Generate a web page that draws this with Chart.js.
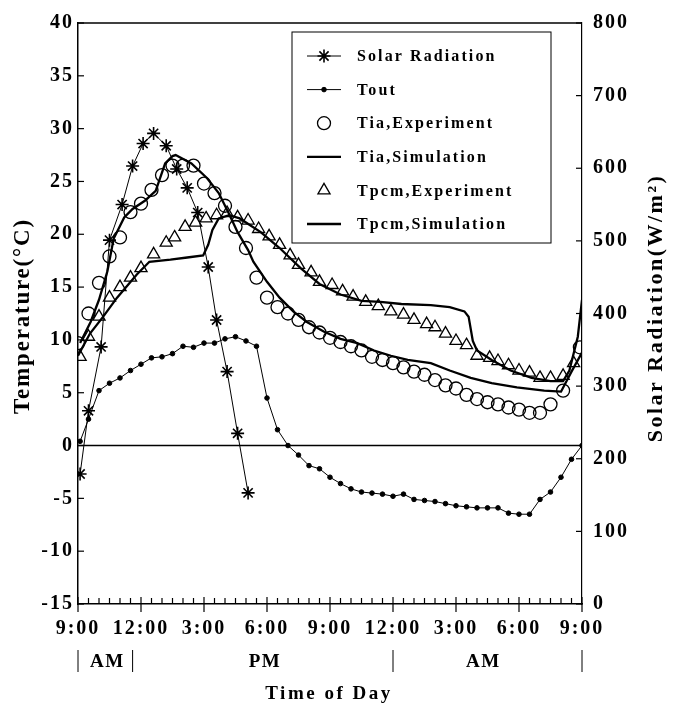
<!DOCTYPE html>
<html>
<head>
<meta charset="utf-8">
<title>Temperature and solar radiation</title>
<script src="https://cdn.jsdelivr.net/npm/chart.js@4.4.1/dist/chart.umd.min.js"></script>
<style>
  html, body { margin: 0; padding: 0; background: #fff; }
</style>
</head>
<body>
<canvas id="chart" width="677" height="710"></canvas>
<script>
// hours after 9:00 AM
const xTickLabels = ['9:00', '12:00', '3:00', '6:00', '9:00', '12:00', '3:00', '6:00', '9:00'];

// solar radiation (W/m2, right axis)
const solarHours = [0.1, 0.5, 1.1, 1.5, 2.1, 2.6, 3.1, 3.6, 4.2, 4.7, 5.2, 5.7, 6.2, 6.6, 7.1, 7.6, 8.1];
const solarValues = [179, 266, 354, 501, 550, 603, 634, 648, 631, 599, 573, 539, 464, 391, 320, 235, 153];

// outdoor temperature
const toutHours = [0.1, 0.5, 1, 1.5, 2, 2.5, 3, 3.5, 4, 4.5, 5, 5.5, 6, 6.5, 7, 7.5, 8, 8.5, 9, 9.5,
  10, 10.5, 11, 11.5, 12, 12.5, 13, 13.5, 14, 14.5, 15, 15.5, 16, 16.5, 17, 17.5, 18, 18.5, 19, 19.5,
  20, 20.5, 21, 21.5, 22, 22.5, 23, 23.5, 24];
const toutValues = [0.4, 2.5, 5.2, 5.9, 6.4, 7.1, 7.7, 8.3, 8.4, 8.7, 9.4, 9.3, 9.7, 9.7, 10.1, 10.3, 9.9, 9.4, 4.5, 1.5,
  0.0, -0.9, -1.9, -2.2, -3.0, -3.6, -4.1, -4.4, -4.5, -4.6, -4.8, -4.6, -5.1, -5.2, -5.3, -5.5, -5.7, -5.8, -5.9, -5.9,
  -5.9, -6.4, -6.5, -6.5, -5.1, -4.4, -3.0, -1.3, 0.0];

// Tia experiment (circles)
const tiaExpHours = [0, 0.5, 1, 1.5, 2, 2.5, 3, 3.5, 4, 4.5, 5, 5.5, 6, 6.5, 7, 7.5, 8, 8.5, 9, 9.5,
  10, 10.5, 11, 11.5, 12, 12.5, 13, 13.5, 14, 14.5, 15, 15.5, 16, 16.5, 17, 17.5, 18, 18.5, 19, 19.5,
  20, 20.5, 21, 21.5, 22, 22.5, 23.1, 23.9];
const tiaExpValues = [9.7, 12.5, 15.4, 17.9, 19.7, 22.1, 22.9, 24.2, 25.6, 26.5, 26.5, 26.5, 24.8, 23.9, 22.7, 20.7, 18.7, 15.9, 14.0, 13.1,
  12.5, 11.9, 11.2, 10.7, 10.2, 9.8, 9.4, 9.0, 8.4, 8.1, 7.8, 7.4, 7.0, 6.7, 6.2, 5.7, 5.4, 4.8, 4.4, 4.1,
  3.9, 3.6, 3.4, 3.1, 3.1, 3.9, 5.2, 9.3];

// Tia simulation (line)
const tiaSimHours = [0.1, 0.6, 1.0, 1.4, 1.7, 2.2, 2.6, 3.2, 3.7, 4.15, 4.5, 4.65, 5.4, 6.15, 6.7, 7.15, 7.6, 8.1, 8.35, 9.0,
  9.6, 10.25, 10.9, 11.7, 12.5, 13.3, 14.1, 14.9, 15.7, 16.8, 17.7, 18.7, 19.7, 20.9, 22.2, 23.0, 23.5, 24.0];
const tiaSimValues = [9.7, 11.7, 13.8, 16.5, 19.6, 21.6, 22.4, 23.2, 24.1, 26.7, 27.4, 27.5, 26.7, 25.3, 23.9, 22.1, 20.2, 18.5, 17.4, 15.5,
  14.0, 12.7, 11.7, 10.8, 10.1, 9.7, 9.0, 8.5, 8.1, 7.8, 7.1, 6.4, 5.9, 5.5, 5.2, 5.1, 7.0, 8.8];

// Tpcm experiment (triangles)
const tpcmExpHours = [0.1, 0.5, 1.0, 1.5, 2.0, 2.5, 3.0, 3.6, 4.2, 4.6, 5.1, 5.6, 6.1, 6.6, 7.1, 7.6, 8.1, 8.6, 9.1, 9.6,
  10.1, 10.5, 11.1, 11.5, 12.1, 12.6, 13.1, 13.7, 14.3, 14.9, 15.5, 16.0, 16.6, 17.0, 17.5, 18.0, 18.5, 19.0, 19.6, 20.0,
  20.5, 21.0, 21.5, 22.0, 22.5, 23.1, 23.6];
const tpcmExpValues = [8.4, 10.3, 12.2, 14.0, 15.0, 15.9, 16.8, 18.1, 19.2, 19.7, 20.7, 21.1, 21.5, 21.8, 22.0, 21.6, 21.3, 20.5, 19.8, 19.0,
  18.0, 17.1, 16.4, 15.5, 15.2, 14.6, 14.1, 13.6, 13.2, 12.7, 12.4, 11.9, 11.5, 11.2, 10.6, 9.9, 9.5, 8.5, 8.3, 8.0,
  7.6, 7.1, 6.9, 6.4, 6.4, 6.6, 7.8];

// Tpcm simulation (line)
const tpcmSimHours = [0, 0.57, 1.2, 1.86, 2.8, 3.4, 4.4, 5.2, 5.96, 6.2, 6.4, 6.7, 7.2, 7.7, 8.7, 9.6, 10.6, 11.5, 12.5, 13.5,
  14.4, 15.4, 16.8, 17.7, 18.4, 18.6, 18.8, 19.0, 19.7, 20.6, 21.6, 22.5, 23.1, 23.4, 23.8, 24.0];
const tpcmSimValues = [8.5, 10.6, 12.2, 14.0, 16.2, 17.4, 17.6, 17.8, 18.0, 19.0, 20.4, 21.5, 21.8, 21.5, 20.2, 18.7, 16.8, 15.3, 14.3, 13.7,
  13.6, 13.4, 13.3, 13.1, 12.7, 12.2, 9.9, 9.0, 8.1, 7.1, 6.4, 6.1, 6.1, 7.1, 10.3, 13.8];

const FONT = 'Liberation Serif, Times New Roman, serif';

function pts(hours, vals) {
    return hours.map((h, i) => ({ x: h, y: vals[i] }));
}

function hline(ctx, x1, y1, x2, y2) {
    ctx.beginPath();
    ctx.moveTo(x1, y1);
    ctx.lineTo(x2, y2);
    ctx.stroke();
}

const decor = {
    id: 'decor',
    beforeDraw(chart) {
        const ctx = chart.ctx;
        ctx.save();
        ctx.fillStyle = '#fff';
        ctx.fillRect(0, 0, chart.width, chart.height);
        ctx.restore();
        ctx.letterSpacing = '2px';
    },
    beforeDatasetsDraw(chart) {
        const { ctx, chartArea: a, scales } = chart;
        const y0 = scales.y.getPixelForValue(0);
        ctx.save();
        ctx.strokeStyle = '#000';
        ctx.lineWidth = 1.5;
        hline(ctx, a.left, y0, a.right, y0);
        ctx.restore();
    },
    afterDraw(chart) {
        const { ctx, chartArea: a, scales } = chart;
        const xs = scales.x;
        ctx.save();
        ctx.strokeStyle = '#000';
        ctx.fillStyle = '#000';

        // frame top
        ctx.lineWidth = 1.5;
        hline(ctx, a.left, a.top, a.right, a.top);

        // inner tick marks
        ctx.lineWidth = 1.2;
        scales.y.ticks.forEach(t => {
            const py = scales.y.getPixelForValue(t.value);
            hline(ctx, a.left, py, a.left + 6, py);
        });
        scales.yR.ticks.forEach(t => {
            const py = scales.yR.getPixelForValue(t.value);
            hline(ctx, a.right - 6, py, a.right, py);
        });
        for (let h = 0; h <= 24; h += 0.5) {
            const px = xs.getPixelForValue(h);
            if (h % 3 === 0) hline(ctx, px, a.bottom - 7, px, a.bottom + 8);
            else hline(ctx, px, a.bottom - 6, px, a.bottom);
        }

        // AM / PM row
        ctx.lineWidth = 1;
        [0, 2.6, 15, 24].forEach(h => {
            const px = xs.getPixelForValue(h);
            hline(ctx, px, 650, px, 672);
        });
        ctx.font = 'bold 19px ' + FONT;
        ctx.letterSpacing = '1.5px';
        ctx.textAlign = 'center';
        ctx.textBaseline = 'middle';
        ctx.fillText('AM', xs.getPixelForValue(1.4), 662);
        ctx.fillText('PM', xs.getPixelForValue(8.9), 662);
        ctx.fillText('AM', xs.getPixelForValue(19.3), 662);

        // axis titles
        ctx.font = 'bold 19px ' + FONT;
        ctx.letterSpacing = '2.5px';
        ctx.fillText('Time of Day', 329, 694);

        ctx.save();
        ctx.translate(23, 316);
        ctx.rotate(-Math.PI / 2);
        ctx.font = 'bold 23px ' + FONT;
        ctx.letterSpacing = '1.8px';
        ctx.fillText('Temperature(°C)', 0, 0);
        ctx.restore();

        ctx.save();
        ctx.translate(656, 308);
        ctx.rotate(-Math.PI / 2);
        ctx.font = 'bold 22px ' + FONT;
        ctx.letterSpacing = '2.5px';
        ctx.fillText('Solar Radiation(W/m²)', 0, 0);
        ctx.restore();

        // legend box
        const bx = 292, by = 32, bw = 259, bh = 211;
        ctx.lineWidth = 1;
        ctx.strokeRect(bx, by, bw, bh);
        ctx.font = 'bold 16px ' + FONT;
        ctx.letterSpacing = '2.1px';
        ctx.textAlign = 'left';
        chart.data.datasets.forEach((ds, i) => {
            const ry = 56 + i * 33.6;
            ctx.strokeStyle = '#000';
            ctx.fillStyle = '#000';
            if (ds.showLine !== false) {
                ctx.lineWidth = ds.borderWidth;
                hline(ctx, 307, ry, 341, ry);
            }
            if (ds.pointRadius > 0) {
                ctx.lineWidth = ds.pointBorderWidth;
                ctx.fillStyle = ds.pointBackgroundColor;
                Chart.helpers.drawPoint(ctx, {
                    pointStyle: ds.pointStyle,
                    radius: ds.pointRadius,
                    rotation: 0,
                    borderWidth: ds.pointBorderWidth
                }, 324, ry);
            }
            ctx.fillStyle = '#000';
            ctx.fillText(ds.label, 357, ry + 1);
        });
        ctx.restore();
    }
};

const ctx = document.getElementById('chart').getContext('2d');
new Chart(ctx, {
    type: 'line',
    data: {
        datasets: [
            {
                label: 'Solar Radiation',
                data: pts(solarHours, solarValues),
                yAxisID: 'yR',
                borderColor: '#000',
                borderWidth: 1,
                pointStyle: 'star',
                pointRadius: 6.5,
                pointBorderWidth: 1.6,
                pointBorderColor: '#000',
                pointBackgroundColor: '#000'
            },
            {
                label: 'Tout',
                data: pts(toutHours, toutValues),
                yAxisID: 'y',
                borderColor: '#000',
                borderWidth: 1,
                pointStyle: 'circle',
                pointRadius: 2.3,
                pointBorderWidth: 1,
                pointBorderColor: '#000',
                pointBackgroundColor: '#000'
            },
            {
                label: 'Tia,Experiment',
                data: pts(tiaExpHours, tiaExpValues),
                yAxisID: 'y',
                showLine: false,
                borderColor: '#000',
                borderWidth: 0,
                pointStyle: 'circle',
                pointRadius: 6.5,
                pointBorderWidth: 1.3,
                pointBorderColor: '#000',
                pointBackgroundColor: 'rgba(0,0,0,0)'
            },
            {
                label: 'Tia,Simulation',
                data: pts(tiaSimHours, tiaSimValues),
                yAxisID: 'y',
                borderColor: '#000',
                borderWidth: 2.3,
                pointRadius: 0
            },
            {
                label: 'Tpcm,Experiment',
                data: pts(tpcmExpHours, tpcmExpValues),
                yAxisID: 'y',
                showLine: false,
                borderColor: '#000',
                borderWidth: 0,
                pointStyle: 'triangle',
                pointRadius: 7,
                pointBorderWidth: 1.3,
                pointBorderColor: '#000',
                pointBackgroundColor: 'rgba(0,0,0,0)'
            },
            {
                label: 'Tpcm,Simulation',
                data: pts(tpcmSimHours, tpcmSimValues),
                yAxisID: 'y',
                borderColor: '#000',
                borderWidth: 2.3,
                pointRadius: 0
            }
        ]
    },
    options: {
        responsive: false,
        animation: false,
        layout: { padding: { top: 15, left: 0, right: 0, bottom: 0 } },
        plugins: {
            legend: { display: false },
            tooltip: { enabled: false }
        },
        elements: { line: { tension: 0 } },
        scales: {
            x: {
                type: 'linear',
                min: 0,
                max: 24,
                grid: { display: false, drawTicks: false },
                border: { display: true, color: '#000', width: 1.5 },
                ticks: {
                    stepSize: 3,
                    autoSkip: false,
                    maxRotation: 0,
                    padding: 13,
                    color: '#000',
                    font: { family: FONT, size: 20, weight: 'bold' },
                    callback: v => xTickLabels[Math.round(v / 3)]
                },
                afterFit: s => { s.height = 106; }
            },
            y: {
                position: 'left',
                min: -15,
                max: 40,
                grid: { display: false, drawTicks: false },
                border: { display: true, color: '#000', width: 1.5 },
                ticks: {
                    stepSize: 5,
                    padding: 4,
                    color: '#000',
                    font: { family: FONT, size: 20, weight: 'bold' }
                },
                afterFit: s => { s.width = 78; }
            },
            yR: {
                position: 'right',
                min: 0,
                max: 800,
                grid: { display: false, drawTicks: false },
                border: { display: true, color: '#000', width: 1.2, dash: [7, 2] },
                ticks: {
                    stepSize: 100,
                    padding: 11,
                    color: '#000',
                    font: { family: FONT, size: 20, weight: 'bold' }
                },
                afterFit: s => { s.width = 95; }
            }
        }
    },
    plugins: [decor]
});
</script>
</body>
</html>
